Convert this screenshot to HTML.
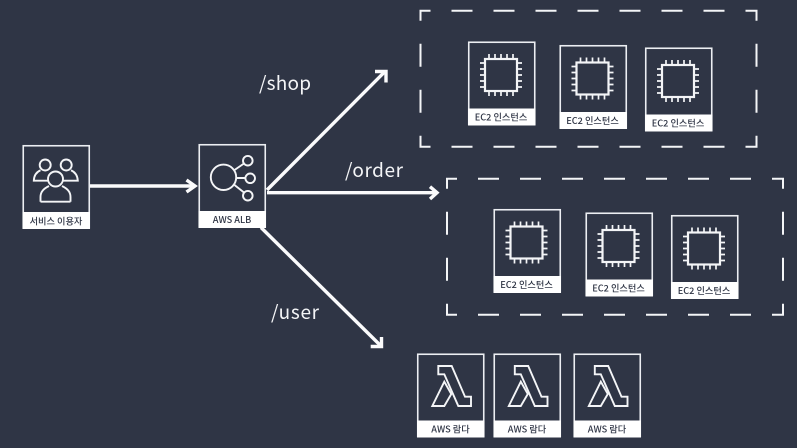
<!DOCTYPE html>
<html><head><meta charset="utf-8"><style>
html,body{margin:0;padding:0;background:#2f3545;width:797px;height:448px;overflow:hidden}
svg{display:block;filter:blur(.3px)}
.lbl{font-family:"Noto Sans CJK KR","Liberation Sans",sans-serif;font-size:9.2px;font-weight:500;fill:#2f3545;text-anchor:middle}
.rt{font-family:"Noto Sans CJK KR","Liberation Sans",sans-serif;font-size:19px;font-weight:400;fill:#f4f5f7}
</style></head><body>
<svg width="797" height="448" viewBox="0 0 797 448" xmlns="http://www.w3.org/2000/svg">
<rect width="797" height="448" fill="#2f3545"/>
<defs>
<g id="card"><rect x="0.75" y="0.75" width="66" height="82" fill="#2f3545" stroke="#eceef2" stroke-width="1.6"/><rect x="0" y="67" width="67.5" height="17" fill="#fff"/></g>
<g id="chip" fill="none" stroke="#f4f5f7" stroke-width="1.7">
<rect x="17" y="17.5" width="32" height="32" stroke-width="2.2"/>
<path d="M21 12.5v5M27 12.5v5M33 12.5v5M39 12.5v5M45 12.5v5M21 49.5v5M27 49.5v5M33 49.5v5M39 49.5v5M45 49.5v5M12 21.5h5M12 27.5h5M12 33.5h5M12 39.5h5M12 45.5h5M49 21.5h5M49 27.5h5M49 33.5h5M49 39.5h5M49 45.5h5"/>
</g>
<g id="lam" fill="none" stroke="#f4f5f7" stroke-width="1.9" stroke-linejoin="miter">
<path d="M21.3 12.5H34.7L48 43.2H54V52.5H41.3L27.3 20.8H21.3Z"/>
<path d="M27.3 28.2L15.3 52.5H27.3L34.3 40.5Z"/>
</g>
<g id="ec2"><use href="#card"/><use href="#chip"/><text class="lbl" x="33" y="79">EC2 인스턴스</text></g>
<g id="lambda"><use href="#card"/><use href="#lam"/><text class="lbl" x="33.5" y="79">AWS 람다</text></g>
<g id="box" fill="none" stroke="#f4f5f7" stroke-width="2">
<path d="M-1 0H337" stroke-dasharray="21 21" stroke-dashoffset="10"/>
<path d="M-1 136H337" stroke-dasharray="21 21" stroke-dashoffset="10"/>
<path d="M0 0V136" stroke-dasharray="23 23" stroke-dashoffset="13"/>
<path d="M336 0V136" stroke-dasharray="23 23" stroke-dashoffset="13"/>
</g>
</defs>

<use href="#box" x="420.5" y="10.8"/>
<use href="#box" x="447" y="178.8"/>

<use href="#ec2" x="468" y="41.5"/>
<use href="#ec2" x="559.5" y="45"/>
<use href="#ec2" x="645" y="47.5"/>
<use href="#ec2" x="493.5" y="209"/>
<use href="#ec2" x="585.5" y="212.5"/>
<use href="#ec2" x="671" y="215"/>

<use href="#lambda" x="417" y="353.5"/>
<use href="#lambda" x="493.5" y="353.5"/>
<use href="#lambda" x="573.5" y="353.5"/>

<!-- user -->
<g transform="translate(22.5,145)">
<use href="#card"/>
<g fill="none" stroke="#f4f5f7" stroke-width="1.9">
<circle cx="22.7" cy="20" r="5.5"/><circle cx="43.7" cy="20" r="5.5"/>
<path d="M26 35.7H11.3C11.5 30 14 27 18 25.2M40 35.7H55.3C55 30 52.5 27 48.5 25.2"/>
<circle cx="33" cy="34" r="7.5"/>
<path d="M18 56.7V52C18 46.5 21.5 43.5 26.5 41M48 56.7V52C48 46.5 44.5 43.5 39.5 41M18 56.7H48"/>
</g>
<text class="lbl" x="33.5" y="79.5">서비스 이용자</text>
</g>

<!-- arrows (drawn before ALB) -->
<g fill="none" stroke="#fbfbfc" stroke-linecap="butt">
<path d="M90 186H195" stroke-width="3.4"/>
<path d="M186.5 180L195 186L186.5 192" stroke-width="3.4"/>
<path d="M267 190L385 71.5" stroke-width="3.4"/>
<path d="M375 71.5H386V82.5" stroke-width="3.4"/>
<path d="M267 192.7H436.5" stroke-width="3.4"/>
<path d="M430 186.7L437 192.7L430 199" stroke-width="3.4"/>
<path d="M261 227.5L381 346" stroke-width="3.4"/>
<path d="M381.5 337V346.5H370.7" stroke-width="3.4"/>
</g>

<!-- ALB -->
<g transform="translate(198.5,144)">
<use href="#card"/>
<g fill="none" stroke="#f4f5f7" stroke-width="1.9">
<circle cx="25" cy="33.3" r="12.7"/>
<circle cx="49.3" cy="16.7" r="4.8"/><circle cx="51.7" cy="34.3" r="4.8"/><circle cx="49.3" cy="51.7" r="4.8"/>
<path d="M36 26L45.5 19.5M37.7 34H46.9M36 41L45.5 48.5"/>
</g>
<text class="lbl" x="33.5" y="79">AWS ALB</text>
</g>

<text class="rt" x="259" y="90" textLength="52" lengthAdjust="spacing">/shop</text>
<text class="rt" x="345" y="177" textLength="58" lengthAdjust="spacing">/order</text>
<text class="rt" x="271" y="319" textLength="48" lengthAdjust="spacing">/user</text>
</svg>
</body></html>
